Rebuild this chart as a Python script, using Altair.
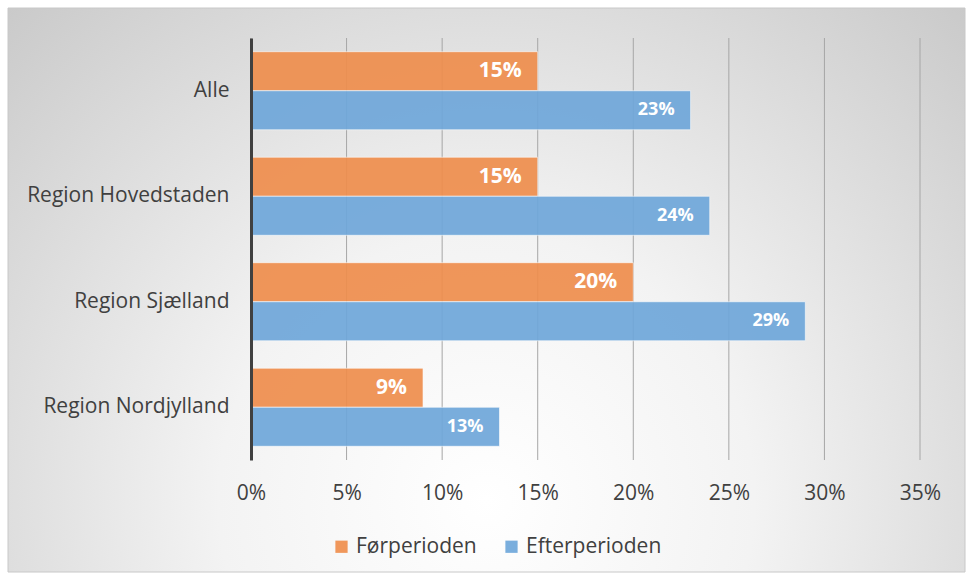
import altair as alt
import pandas as pd

categories = ["Alle", "Region Hovedstaden", "Region Sjælland", "Region Nordjylland"]
series = ["Førperioden", "Efterperioden"]
for_values = [0.15, 0.15, 0.20, 0.09]
efter_values = [0.23, 0.24, 0.29, 0.13]
x_ticks = [0, 0.05, 0.10, 0.15, 0.20, 0.25, 0.30, 0.35]
colors = ["#EF8E4D", "#6FA7DA"]
label_sizes = [21, 18]

FONT = "Open Sans"
TXT = "#404040"

rows = []
for c, f, e in zip(categories, for_values, efter_values):
    rows.append({"kategori": c, "periode": series[0], "andel": f})
    rows.append({"kategori": c, "periode": series[1], "andel": e})
df = pd.DataFrame(rows)

W, H = 669, 422
xscale = alt.Scale(domain=[0, 0.35], nice=False, zero=True)
yscale = alt.Scale(paddingInner=0.26, paddingOuter=0.13)

x_axis = alt.Axis(
    values=x_ticks, format=".0%", grid=False, domain=False, ticks=False,
    labelFontSize=21, labelColor=TXT, labelFont=FONT, labelPadding=22,
    labelFlush=False, title=None, zindex=1,
)

grad = {
    "gradient": "radial",
    "stops": [
        {"offset": 0, "color": "#ffffff"},
        {"offset": 0.35, "color": "#f3f3f3"},
        {"offset": 1, "color": "#c2c2c2"},
    ],
    "x1": 0.5, "y1": 0.72, "r1": 0,
    "x2": 0.5, "y2": 0.72, "r2": 0.8,
}

bg = alt.Chart(pd.DataFrame({"z": [0]})).mark_rect(
    fill=grad, stroke="#c8c8c8", strokeWidth=1
).encode(
    x=alt.value(-243), x2=alt.value(714), y=alt.value(-30), y2=alt.value(534)
)

grid = alt.Chart(pd.DataFrame({"andel": x_ticks})).mark_rule(
    color="#a6a6a6", strokeWidth=1
).encode(
    x=alt.X("andel:Q", scale=xscale, axis=x_axis, title=None)
)

base = alt.Chart(df).encode(
    y=alt.Y(
        "kategori:N", sort=categories, scale=yscale, title=None,
        axis=alt.Axis(
            title=None, ticks=False, domain=True, domainColor=TXT, domainWidth=3,
            labelFontSize=21, labelColor=TXT, labelFont=FONT, labelPadding=22,
            labelLimit=400, grid=False, zindex=1,
        ),
    ),
    yOffset=alt.YOffset("periode:N", sort=series),
)

bars = base.mark_bar(
    stroke="white", strokeOpacity=0.6, strokeWidth=1, opacity=0.92
).encode(
    x=alt.X("andel:Q", scale=xscale, axis=x_axis, title=None),
    color=alt.Color(
        "periode:N", sort=series,
        scale=alt.Scale(domain=series, range=colors),
        legend=alt.Legend(
            orient="none", legendX=80, legendY=498, direction="horizontal",
            title=None, symbolType="square", symbolSize=150, symbolStrokeWidth=0,
            symbolOpacity=0.92,
            labelFontSize=21, labelColor=TXT, labelFont=FONT, columnPadding=24,
            labelOffset=4,
        ),
    ),
)

text_layers = []
for s, fs in zip(series, label_sizes):
    text_layers.append(
        base.transform_filter(alt.datum.periode == s).mark_text(
            align="right", baseline="middle", dx=-16, color="white",
            fontWeight="bold", font=FONT, fontSize=fs,
        ).encode(
            x=alt.X("andel:Q", scale=xscale, axis=x_axis, title=None),
            text=alt.Text("andel:Q", format=".0%"),
        )
    )

chart = alt.layer(bg, grid, bars, *text_layers).properties(
    width=W, height=H,
    autosize=alt.AutoSizeParams(type="none"),
    padding={"left": 251, "top": 38, "right": 48, "bottom": 115},
    background="white",
).configure_view(stroke="transparent")

chart.save("out.html", embed_options={"renderer": "svg", "actions": False})
